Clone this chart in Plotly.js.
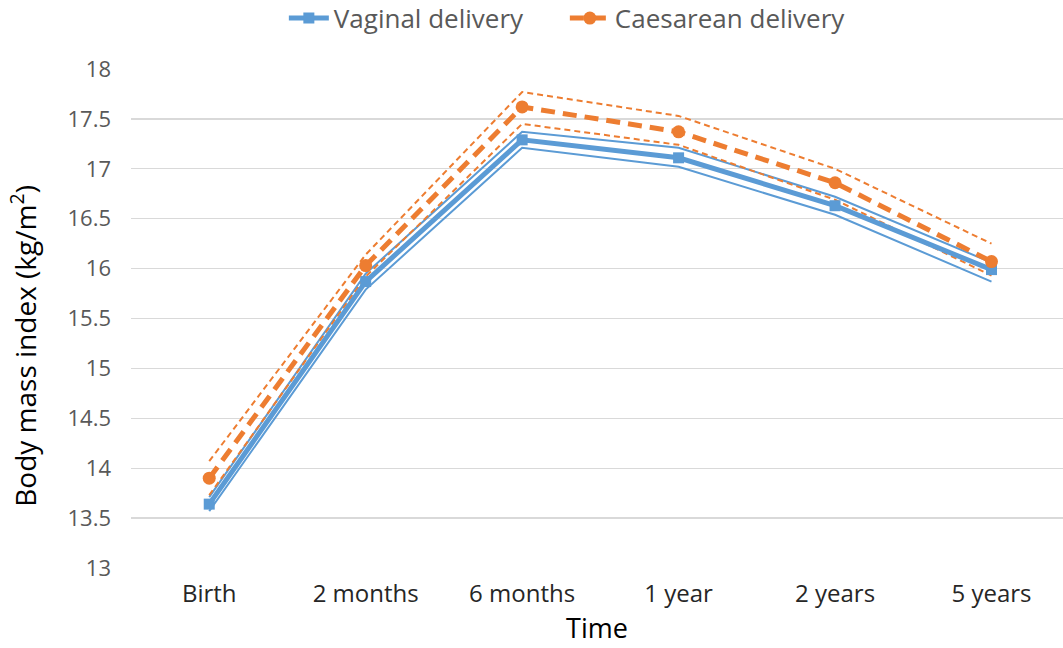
<!DOCTYPE html>
<html>
<head>
<meta charset="utf-8">
<script src="https://cdn.plot.ly/plotly-3.0.1.min.js"></script>
<style>html,body{margin:0;padding:0;background:#fff;}#chart{width:1063px;height:648px;}</style>
</head>
<body>
<div id="chart"></div>
<script>
const categories = ["Birth", "2 months", "6 months", "1 year", "2 years", "5 years"];
const vaginalMean  = [13.64, 15.87, 17.29, 17.11, 16.63, 15.99];
const vaginalUpper = [13.71, 15.95, 17.37, 17.21, 16.72, 16.06];
const vaginalLower = [13.57, 15.79, 17.21, 17.02, 16.54, 15.87];
const caesMean  = [13.90, 16.03, 17.62, 17.37, 16.86, 16.07];
const caesUpper = [14.07, 16.14, 17.77, 17.53, 17.00, 16.25];
const caesLower = [13.73, 15.92, 17.45, 17.24, 16.69, 15.93];
const yTicks = [13, 13.5, 14, 14.5, 15, 15.5, 16, 16.5, 17, 17.5, 18];

const blue = "#5B9BD5", orange = "#ED7D31";

const traces = [
  {x: categories, y: vaginalUpper, mode: "lines", line: {color: blue, width: 2}, showlegend: false, hoverinfo: "skip"},
  {x: categories, y: vaginalLower, mode: "lines", line: {color: blue, width: 2}, showlegend: false, hoverinfo: "skip"},
  {x: categories, y: caesUpper, mode: "lines", line: {color: orange, width: 2, dash: "6px,4px"}, showlegend: false, hoverinfo: "skip"},
  {x: categories, y: caesLower, mode: "lines", line: {color: orange, width: 2, dash: "6px,4px"}, showlegend: false, hoverinfo: "skip"},
  {x: categories, y: vaginalMean, name: "Vaginal delivery", mode: "lines+markers",
   line: {color: blue, width: 5}, marker: {symbol: "square", size: 11, color: blue}},
  {x: categories, y: caesMean, name: "Caesarean delivery", mode: "lines+markers",
   line: {color: orange, width: 5, dash: "14px,8px"}, marker: {symbol: "circle", size: 13, color: orange}}
];

const layout = {
  width: 1063, height: 648,
  margin: {l: 131, r: 0, t: 69, b: 80, autoexpand: false},
  paper_bgcolor: "#fff", plot_bgcolor: "#fff",
  font: {family: "Open Sans, sans-serif", color: "#595959", size: 20},
  showlegend: true,
  legend: {orientation: "h", x: 0.164, xanchor: "left", yref: "container", y: 0.972, yanchor: "middle",
           font: {size: 26, color: "#595959"}, itemwidth: 40, entrywidth: 226, traceorder: "normal"},
  xaxis: {
    type: "category", range: [-0.5, 5.457], showgrid: false, zeroline: false,
    showline: false, ticks: "", ticklabelstandoff: 9, tickfont: {size: 24, color: "#262626"},
    title: {text: "Time", font: {size: 27, color: "#000"}, standoff: 4}
  },
  yaxis: {
    range: [13, 18], tickvals: yTicks, ticktext: yTicks.map(String),
    showgrid: true, gridcolor: "#D9D9D9", gridwidth: 1.3, zeroline: false, showline: false,
    ticks: "", ticklabelstandoff: 19, tickfont: {size: 22, color: "#595959"}
  },
  annotations: [{
    text: "Body mass index (kg/m<sup>2</sup>)", textangle: -90, showarrow: false,
    xref: "paper", yref: "paper", x: -0.115, y: 0.445, xanchor: "center", yanchor: "middle",
    font: {size: 28, color: "#000", family: "Open Sans, sans-serif"}
  }]
};

Plotly.newPlot("chart", traces, layout, {displayModeBar: false, staticPlot: true});
</script>
</body>
</html>
